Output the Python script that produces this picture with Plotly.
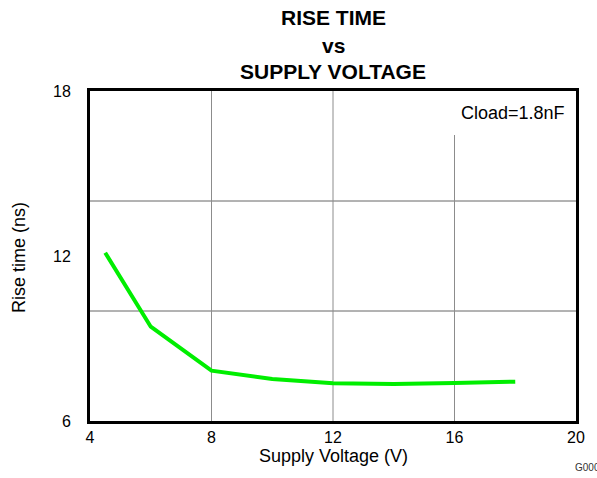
import plotly.graph_objects as go

# Rise time vs supply voltage, Cload = 1.8 nF
supply_v = [4.5, 6, 8, 10, 12, 14, 16, 18]
rise_ns = [12.12, 9.43, 7.83, 7.53, 7.37, 7.35, 7.38, 7.43]

x_ticks = [4, 8, 12, 16, 20]
y_ticks = [6, 12, 18]
x_grid = [8, 12, 16]
y_grid = [10, 14]

FONT = "Liberation Sans, Arial, sans-serif"

W, H = 597, 478
L, R, T, B = 90, 21, 91, 57
pw, ph = W - L - R, H - T - B


def px_x(x):
    return (x - L) / pw


def px_y(y):
    return (H - B - y) / ph


fig = go.Figure()
fig.add_trace(go.Scatter(
    x=supply_v, y=rise_ns, mode="lines",
    line=dict(color="#00ee00", width=4),
    showlegend=False, hoverinfo="skip",
))

shapes = []
for gx in x_grid:
    # the 16 V line stops short of the annotation text
    top = 16.4 if gx == 16 else 18
    shapes.append(dict(type="line", xref="x", yref="y", x0=gx, x1=gx, y0=6, y1=top,
                       line=dict(color="#8c8c8c", width=1), layer="below"))
for gy in y_grid:
    shapes.append(dict(type="line", xref="paper", yref="y", x0=0, x1=1, y0=gy, y1=gy,
                       line=dict(color="#666666", width=1), layer="below"))


def label(text, x, y, size, bold=False, xanchor="center", angle=0, color="black"):
    return dict(text=f"<b>{text}</b>" if bold else text, x=x, y=y,
                xref="paper", yref="paper", xanchor=xanchor, yanchor="middle",
                showarrow=False, textangle=angle,
                font=dict(size=size, color=color, family=FONT))


annotations = [
    label("RISE TIME", px_x(333), px_y(17), 21, bold=True),
    label("vs", px_x(333), px_y(46), 21, bold=True),
    label("SUPPLY VOLTAGE", px_x(333), px_y(72), 21, bold=True),
    label("Cload=1.8nF", px_x(567), px_y(113), 18, xanchor="right"),
    label("Supply Voltage (V)", px_x(333), px_y(456), 18),
    label("Rise time (ns)", px_x(19), px_y(258), 18, angle=-90),
    label("G000", px_x(573), px_y(467), 10, xanchor="left", color="#333333"),
]

fig.update_layout(
    width=W, height=H,
    margin=dict(l=L, r=R, t=T, b=B, pad=0),
    paper_bgcolor="white", plot_bgcolor="white",
    font=dict(family=FONT, size=16, color="black"),
    shapes=shapes, annotations=annotations,
    xaxis=dict(range=[4, 20], tickvals=x_ticks, ticktext=[str(v) for v in x_ticks],
               showgrid=False, zeroline=False, showline=True, mirror=True,
               linecolor="black", linewidth=3, ticks="", ticklabelstandoff=0,
               tickfont=dict(size=16)),
    yaxis=dict(range=[6, 18], tickvals=y_ticks, ticktext=[str(v) for v in y_ticks],
               showgrid=False, zeroline=False, showline=True, mirror=True,
               linecolor="black", linewidth=3, ticks="", ticklabelstandoff=13,
               tickfont=dict(size=16)),
)

fig.write_html("out.html")
